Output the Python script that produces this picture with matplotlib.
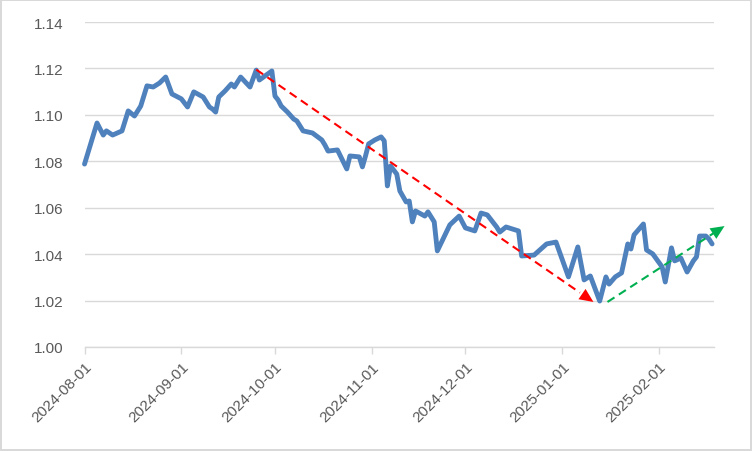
import pandas as pd
import matplotlib
matplotlib.use("Agg")
import matplotlib.pyplot as plt
import matplotlib.dates as mdates

plt.rcParams['font.family'] = ['Liberation Sans', 'DejaVu Sans']

# values (turning points of the line)
dates = [
    "2024-08-01", "2024-08-05", "2024-08-07", "2024-08-08", "2024-08-10", "2024-08-13",
    "2024-08-15", "2024-08-17", "2024-08-19", "2024-08-21", "2024-08-23", "2024-08-25",
    "2024-08-27", "2024-08-29", "2024-09-01", "2024-09-03", "2024-09-05", "2024-09-08",
    "2024-09-10", "2024-09-11", "2024-09-12", "2024-09-13", "2024-09-15", "2024-09-17",
    "2024-09-18", "2024-09-20", "2024-09-23", "2024-09-25", "2024-09-26", "2024-09-30",
    "2024-10-01", "2024-10-02", "2024-10-03", "2024-10-05", "2024-10-07", "2024-10-08",
    "2024-10-10", "2024-10-13", "2024-10-16", "2024-10-17", "2024-10-18", "2024-10-21",
    "2024-10-24", "2024-10-25", "2024-10-28", "2024-10-29", "2024-10-30", "2024-10-31",
    "2024-11-02", "2024-11-04", "2024-11-05", "2024-11-06", "2024-11-07", "2024-11-09",
    "2024-11-10", "2024-11-12", "2024-11-13", "2024-11-14", "2024-11-15", "2024-11-18",
    "2024-11-19", "2024-11-21", "2024-11-22", "2024-11-26", "2024-11-29", "2024-12-01",
    "2024-12-04", "2024-12-06", "2024-12-08", "2024-12-11", "2024-12-12", "2024-12-14",
    "2024-12-18", "2024-12-19", "2024-12-23", "2024-12-27", "2024-12-30", "2025-01-03",
    "2025-01-06", "2025-01-08", "2025-01-10", "2025-01-13", "2025-01-15", "2025-01-16",
    "2025-01-18", "2025-01-20", "2025-01-22", "2025-01-23", "2025-01-24", "2025-01-27",
    "2025-01-28", "2025-01-30", "2025-02-02", "2025-02-03", "2025-02-05", "2025-02-06",
    "2025-02-08", "2025-02-10", "2025-02-12", "2025-02-13", "2025-02-14", "2025-02-16",
    "2025-02-17", "2025-02-18",
]
values = [
    1.0788, 1.0965, 1.0913, 1.0931, 1.0913, 1.0931,
    1.1017, 1.0995, 1.1038, 1.1125, 1.1120, 1.1137,
    1.1163, 1.1090, 1.1069, 1.1034, 1.1099, 1.1077,
    1.1034, 1.1025, 1.1012, 1.1077, 1.1103, 1.1133,
    1.1120, 1.1163, 1.1120, 1.1193, 1.1150, 1.1189,
    1.1081, 1.1064, 1.1038, 1.1012, 1.0982, 1.0974,
    1.0931, 1.0922, 1.0892, 1.0870, 1.0844, 1.0849,
    1.0767, 1.0823, 1.0819, 1.0776, 1.0823, 1.0875,
    1.0892, 1.0905, 1.0888, 1.0694, 1.0780, 1.0745,
    1.0672, 1.0625, 1.0629, 1.0539, 1.0586, 1.0564,
    1.0582, 1.0539, 1.0414, 1.0526, 1.0564, 1.0513,
    1.0500, 1.0577, 1.0569, 1.0517, 1.0495, 1.0517,
    1.0500, 1.0392, 1.0396, 1.0444, 1.0452, 1.0302,
    1.0431, 1.0289, 1.0306, 1.0198, 1.0302, 1.0271,
    1.0302, 1.0319, 1.0444, 1.0422, 1.0483, 1.0530,
    1.0418, 1.0401, 1.0345, 1.0280, 1.0427, 1.0371,
    1.0383, 1.0323, 1.0371, 1.0388, 1.0478, 1.0478,
    1.0465, 1.0444,
]

# trend arrows (start, end)
down_arrow = [("2024-09-25", 1.1195), ("2025-01-11", 1.0194)]
up_arrow = [("2025-01-15 12:00", 1.0194), ("2025-02-22", 1.0521)]

tick_dates = ["2024-08-01", "2024-09-01", "2024-10-01", "2024-11-01",
              "2024-12-01", "2025-01-01", "2025-02-01"]
y_ticks = [1.00, 1.02, 1.04, 1.06, 1.08, 1.10, 1.12, 1.14]

x = pd.to_datetime(dates)

fig = plt.figure(figsize=(7.52, 4.52), dpi=100, linewidth=1.5, edgecolor='#D9D9D9')
ax = fig.add_axes([0.1124, 0.2301, 0.8366, 0.7190])

ax.plot(x, values, color='#4F81BD', lw=3.5, solid_joinstyle='round',
        solid_capstyle='round', zorder=3, clip_on=False)


def trend(points, color):
    (d0, v0), (d1, v1) = points
    x0 = mdates.date2num(pd.Timestamp(d0))
    x1 = mdates.date2num(pd.Timestamp(d1))
    # stop the dashes a bit before the tip, then add a solid head
    t = 0.96
    xm = x0 + (x1 - x0) * t
    vm = v0 + (v1 - v0) * t
    ax.plot([x0, xm], [v0, vm], color=color, lw=1.5, dashes=(4, 2.5),
            zorder=4, clip_on=False)
    ax.annotate('', xy=(x1, v1), xytext=(xm, vm),
                arrowprops=dict(arrowstyle='-|>,head_length=1.0,head_width=0.45',
                                color=color, lw=0, shrinkA=0, shrinkB=0,
                                mutation_scale=10),
                zorder=5, annotation_clip=False)


trend(down_arrow, '#FF0000')
trend(up_arrow, '#00B050')

ax.set_ylim(1.00, 1.14)
ax.set_yticks(y_ticks)
ax.set_yticklabels([f"{v:.2f}" for v in y_ticks])
ax.set_xlim(pd.Timestamp("2024-08-01"), pd.Timestamp("2025-02-18 12:00"))
ax.set_xticks(pd.to_datetime(tick_dates))
ax.set_xticklabels(tick_dates, rotation=45, ha='right', rotation_mode='anchor')

ax.grid(axis='y', color='#D9D9D9', lw=1)
ax.set_axisbelow(True)
for s in ['top', 'right', 'left']:
    ax.spines[s].set_visible(False)
ax.spines['bottom'].set_color('#D9D9D9')
ax.spines['bottom'].set_linewidth(1)
ax.tick_params(axis='y', length=0, pad=15, labelsize=11, labelcolor='#595959')
ax.tick_params(axis='x', length=5, width=1, color='#D9D9D9', pad=4,
               labelsize=11, labelcolor='#595959')

fig.savefig('out.png', dpi=100, edgecolor=fig.get_edgecolor())
